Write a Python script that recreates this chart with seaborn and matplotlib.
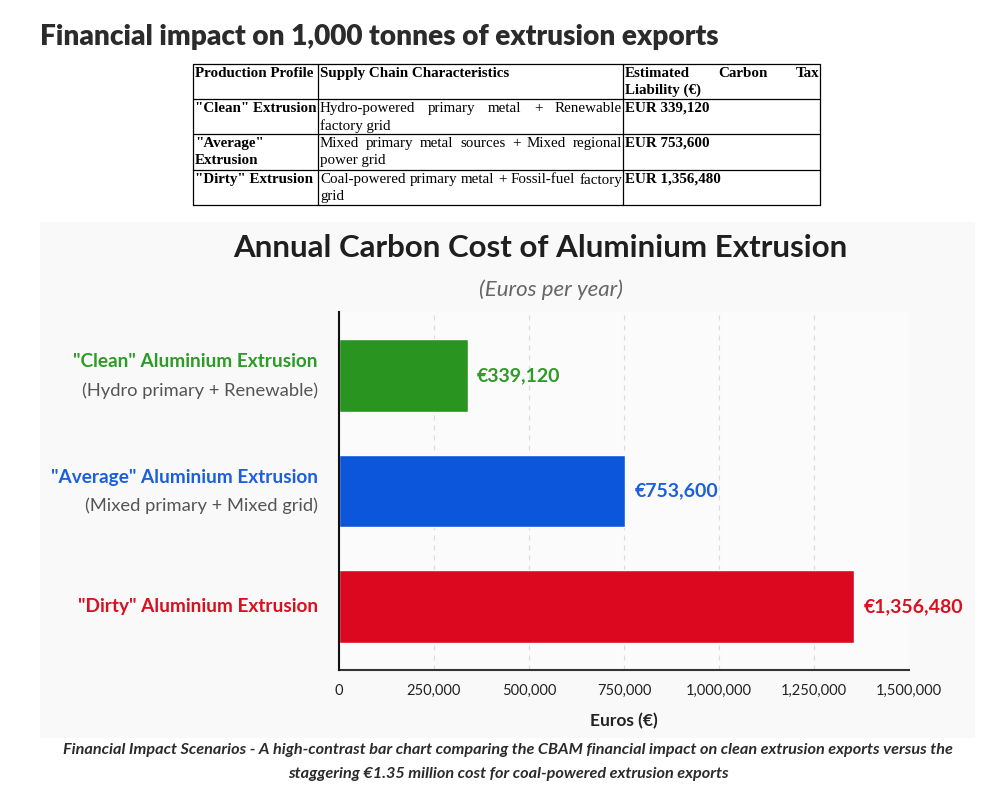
import numpy as np
import pandas as pd
import matplotlib.pyplot as plt
import matplotlib.transforms as mtransforms
from matplotlib.patches import Rectangle
import seaborn as sns

sns.set_theme(style="white")
plt.rcParams['font.family'] = ['Lato', 'DejaVu Sans']

# chart data
profiles = ['"Clean" Aluminium Extrusion', '"Average" Aluminium Extrusion', '"Dirty" Aluminium Extrusion']
details = ['(Hydro primary + Renewable)', '(Mixed primary + Mixed grid)', '']
costs = [339120, 753600, 1356480]
bar_colors = ['#2A9421', '#0B56DA', '#DB0820']
text_colors = ['#2E9A27', '#1B5FDE', '#D9101F']
xticks = [0, 250000, 500000, 750000, 1000000, 1250000, 1500000]

# table data
table_header = ['Production Profile', 'Supply Chain Characteristics', 'Estimated Carbon Tax\nLiability (€)']
table_profiles = ['"Clean" Extrusion', '"Average"\nExtrusion', '"Dirty" Extrusion']
table_chains = ['Hydro-powered primary metal + Renewable\nfactory grid',
                'Mixed primary metal sources + Mixed regional\npower grid',
                'Coal-powered primary metal + Fossil-fuel factory\ngrid']
table_liability = ['EUR 339,120', 'EUR 753,600', 'EUR 1,356,480']

heading = 'Financial impact on 1,000 tonnes of extrusion exports'
title = 'Annual Carbon Cost of Aluminium Extrusion'
subtitle = '(Euros per year)'
caption = ['Financial Impact Scenarios - A high-contrast bar chart comparing the CBAM financial impact on clean extrusion exports versus the',
           'staggering €1.35 million cost for coal-powered extrusion exports']

W, H = 995, 795
fig = plt.figure(figsize=(W / 100, H / 100), dpi=100)
fig.patch.set_facecolor('white')

# overlay axes in pixel coordinates for the page elements
page = fig.add_axes([0, 0, 1, 1])
page.set_xlim(0, W)
page.set_ylim(H, 0)
page.axis('off')
page.set_zorder(0)

page.add_patch(Rectangle((40, 222), 935, 516, facecolor='#f9f9f9', edgecolor='none'))
page.text(40, 37, heading, fontsize=20.2, fontweight='heavy', color='#2b2b2b', va='center', ha='left')

# table
renderer = fig.canvas.get_renderer()
col_x = [193, 318, 623, 820]
row_y = [64, 99, 134, 170, 205]
serif = ['Liberation Serif', 'DejaVu Serif']
tfs = 10.8
line_h = 17

for x in col_x:
    page.plot([x, x], [row_y[0], row_y[-1]], color='black', lw=0.9)
for y in row_y:
    page.plot([col_x[0], col_x[-1]], [y, y], color='black', lw=0.9)


def cell(text, ci, ri, bold):
    lines = text.split('\n')
    x0, x1 = col_x[ci] + 2, col_x[ci + 1] - 1
    weight = 'bold' if bold else 'normal'
    for li, line in enumerate(lines):
        y = row_y[ri] + 3 + li * line_h
        words = line.split(' ')
        if li < len(lines) - 1 and len(words) > 1:
            objs = [page.text(0, y, w, fontsize=tfs, fontweight=weight, family=serif,
                              color='black', va='top', ha='left') for w in words]
            widths = [o.get_window_extent(renderer).width for o in objs]
            gap = max((x1 - x0 - sum(widths)) / (len(words) - 1), 2)
            x = x0
            for o, w in zip(objs, widths):
                o.set_x(x)
                x += w + gap
        else:
            page.text(x0, y, line, fontsize=tfs, fontweight=weight, family=serif,
                      color='black', va='top', ha='left')


for ci, h in enumerate(table_header):
    cell(h, ci, 0, True)
for ri in range(3):
    cell(table_profiles[ri], 0, ri + 1, True)
    cell(table_chains[ri], 1, ri + 1, False)
    cell(table_liability[ri], 2, ri + 1, True)

# chart titles
page.text(540, 248, title, fontsize=22.5, fontweight='bold', color='#1f1f1f', ha='center', va='center')
page.text(551, 290, subtitle, fontsize=16, style='italic', color='#666666', ha='center', va='center')

for i, line in enumerate(caption):
    page.text(508, 750 + i * 24, line, fontsize=11.7, fontweight='bold', style='italic',
              color='#2b2b2b', ha='center', va='center')

# bar chart
ax = fig.add_axes([339 / W, 1 - 670 / H, (909 - 339) / W, (670 - 312) / H])
ax.set_zorder(1)
ax.set_facecolor('#fbfbfb')

df = pd.DataFrame({'profile': profiles, 'cost': costs})
sns.barplot(data=df, x='cost', y='profile', hue='profile', palette=bar_colors,
            orient='h', width=0.63, legend=False, saturation=1, ax=ax, zorder=3)

ax.set_xlim(0, 1500000)
ax.set_ylim(2.55, -0.55)
ax.set_xticks(xticks)
ax.set_xticklabels([f'{t:,}' for t in xticks], fontsize=10.5, color='#222222')
ax.tick_params(axis='x', length=0, pad=10)
ax.set_yticks([])
ax.set_ylabel('')
ax.set_xlabel('Euros (€)', fontsize=12.5, fontweight='bold', color='#222222', labelpad=11)
for t in xticks:
    ax.axvline(t, color='#dcdcdc', lw=0.9, ls=(0, (4, 4)), zorder=1)

for s in ['top', 'right']:
    ax.spines[s].set_visible(False)
ax.spines['left'].set_color('#111111')
ax.spines['left'].set_linewidth(1.5)
ax.spines['bottom'].set_color('#333333')
ax.spines['bottom'].set_linewidth(1.5)
ax.spines['left'].set_zorder(4)

label_tr = mtransforms.blended_transform_factory(ax.transAxes, ax.transData)
for i, (name, det, cost) in enumerate(zip(profiles, details, costs)):
    if det:
        ax.text(-0.037, i, name, transform=mtransforms.offset_copy(label_tr, fig, y=14, units='dots'),
                fontsize=13.7, fontweight='bold', color=text_colors[i], ha='right', va='center')
        ax.text(-0.037, i, det, transform=mtransforms.offset_copy(label_tr, fig, y=-15, units='dots'),
                fontsize=13.2, color='#555555', ha='right', va='center')
    else:
        ax.text(-0.037, i, name, transform=label_tr,
                fontsize=13.7, fontweight='bold', color=text_colors[i], ha='right', va='center')
    ax.annotate(f'€{cost:,}', xy=(cost, i), xytext=(9, 0), textcoords='offset pixels',
                fontsize=14, fontweight='bold', color=text_colors[i], ha='left', va='center')

fig.savefig('out.png', dpi=100)
